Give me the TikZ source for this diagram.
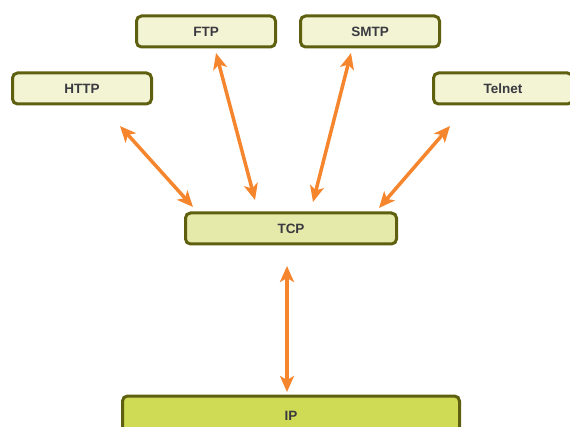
\documentclass[tikz,border=0pt]{standalone}
\usepackage{fontspec}
\setmainfont{Liberation Sans}
\usetikzlibrary{arrows.meta}
\definecolor{boxline}{HTML}{5E6010}
\definecolor{applfill}{HTML}{F2F4D4}
\definecolor{tcpfill}{HTML}{E5E9A9}
\definecolor{ipfill}{HTML}{CFDA55}
\definecolor{arrowcol}{HTML}{F5862E}
\definecolor{txtcol}{HTML}{3A3A40}
\tikzset{
  proto/.style={draw=boxline, line width=3pt, rounded corners=5pt,
    minimum height=31pt, inner sep=0pt, text=txtcol,
    font=\fontsize{13.5}{15}\selectfont\bfseries},
  appl/.style={proto, fill=applfill, minimum width=139pt},
  link/.style={draw=arrowcol, line width=3.5pt,
    {Stealth[length=16pt,width=14pt,inset=4pt]}-{Stealth[length=16pt,width=14pt,inset=4pt]}}
}

\begin{document}
\begin{tikzpicture}[x=1pt, y=-1pt]
\useasboundingbox (0,0) rectangle (570,427);
% application layer
\node[appl] (http) at (82,88.5) {HTTP};
\node[appl] (ftp) at (206,31.5) {FTP};
\node[appl] (smtp) at (370,31.5) {SMTP};
\node[appl] (telnet) at (503,88.5) {Telnet};
% transport and internet
\node[proto, fill=tcpfill, minimum width=211pt] (tcp) at (291,228.5) {TCP};
\node[proto, fill=ipfill, minimum width=337pt, minimum height=40pt] (ip) at (291,416) {IP};
% arrow ends
\coordinate (h1) at (120,126);
\coordinate (h2) at (193,207);
\coordinate (f1) at (216,53);
\coordinate (f2) at (255,200);
\coordinate (s1) at (351,53);
\coordinate (s2) at (313,202);
\coordinate (t1) at (450,126);
\coordinate (t2) at (379,208);
\coordinate (i1) at (287,266);
\coordinate (i2) at (287,392);
\foreach \a/\b in {h1/h2, f1/f2, s1/s2, t1/t2, i1/i2}{
  \draw[link] (\a) -- (\b);
}
\end{tikzpicture}
\end{document}
